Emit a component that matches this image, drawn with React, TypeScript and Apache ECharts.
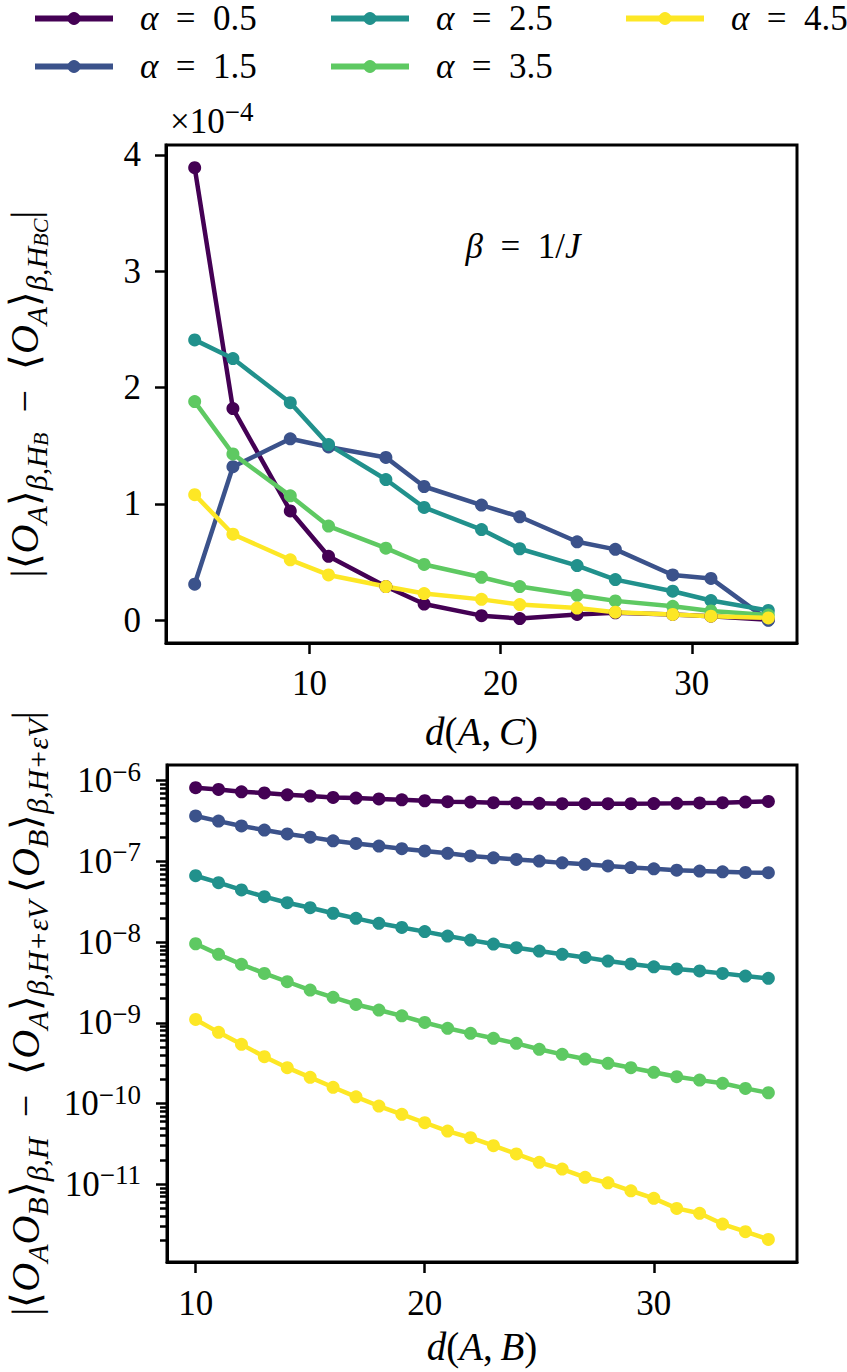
import React, { useEffect, useRef } from 'react';
import * as echarts from 'echarts';

const FONT = 'Liberation Serif';
const COLORS = ['#440154', '#3b528b', '#21918c', '#5ec962', '#fde725'];
const SERIES_NAMES = ['α = 0.5', 'α = 1.5', 'α = 2.5', 'α = 3.5', 'α = 4.5'];

// Top panel: x = d(A,C), y in units of 1e-4
const distAC = [4, 6, 9, 11, 14, 16, 19, 21, 24, 26, 29, 31, 34];
const topAlpha05 = [3.89, 1.82, 0.94, 0.55, 0.29, 0.14, 0.04, 0.015, 0.05, 0.065, 0.05, 0.035, 0.005];
const topAlpha15 = [0.31, 1.32, 1.56, 1.49, 1.4, 1.15, 0.99, 0.89, 0.675, 0.61, 0.39, 0.36, 0.0];
const topAlpha25 = [2.41, 2.25, 1.87, 1.51, 1.21, 0.97, 0.78, 0.615, 0.47, 0.35, 0.25, 0.17, 0.085];
const topAlpha35 = [1.88, 1.43, 1.07, 0.81, 0.62, 0.48, 0.37, 0.29, 0.215, 0.167, 0.12, 0.08, 0.045];
const topAlpha45 = [1.08, 0.74, 0.52, 0.39, 0.29, 0.23, 0.18, 0.135, 0.105, 0.07, 0.05, 0.035, 0.02];

// Bottom panel: x = d(A,B)
const distAB = [10, 11, 12, 13, 14, 15, 16, 17, 18, 19, 20, 21, 22, 23, 24, 25, 26, 27, 28, 29, 30, 31, 32, 33, 34, 35];
const botAlpha05 = [8.2e-7, 7.8e-7, 7.3e-7, 7.05e-7, 6.7e-7, 6.45e-7, 6.2e-7, 6.1e-7, 5.95e-7, 5.8e-7, 5.65e-7, 5.5e-7, 5.45e-7, 5.35e-7, 5.3e-7, 5.25e-7, 5.2e-7, 5.2e-7, 5.2e-7, 5.2e-7, 5.22e-7, 5.25e-7, 5.3e-7, 5.35e-7, 5.45e-7, 5.55e-7];
const botAlpha15 = [3.66e-7, 3.16e-7, 2.75e-7, 2.45e-7, 2.19e-7, 2.0e-7, 1.8e-7, 1.67e-7, 1.55e-7, 1.44e-7, 1.35e-7, 1.26e-7, 1.17e-7, 1.11e-7, 1.06e-7, 1.01e-7, 9.6e-8, 9.2e-8, 8.8e-8, 8.4e-8, 8.1e-8, 7.8e-8, 7.6e-8, 7.45e-8, 7.3e-8, 7.25e-8];
const botAlpha25 = [6.65e-8, 5.45e-8, 4.43e-8, 3.66e-8, 3.08e-8, 2.67e-8, 2.28e-8, 1.97e-8, 1.71e-8, 1.52e-8, 1.35e-8, 1.19e-8, 1.06e-8, 9.46e-9, 8.53e-9, 7.76e-9, 7.06e-9, 6.47e-9, 5.83e-9, 5.36e-9, 4.95e-9, 4.65e-9, 4.39e-9, 4.1e-9, 3.8e-9, 3.56e-9];
const botAlpha35 = [9.55e-9, 7.06e-9, 5.31e-9, 4.1e-9, 3.23e-9, 2.55e-9, 2.07e-9, 1.69e-9, 1.44e-9, 1.22e-9, 1.01e-9, 8.55e-10, 7.41e-10, 6.43e-10, 5.57e-10, 4.7e-10, 4.07e-10, 3.56e-10, 3.15e-10, 2.78e-10, 2.44e-10, 2.15e-10, 1.95e-10, 1.78e-10, 1.54e-10, 1.36e-10];
const botAlpha45 = [1.1e-9, 7.62e-10, 5.41e-10, 3.8e-10, 2.78e-10, 2.11e-10, 1.59e-10, 1.21e-10, 9.31e-11, 7.34e-11, 5.78e-11, 4.56e-11, 3.77e-11, 3.0e-11, 2.37e-11, 1.87e-11, 1.54e-11, 1.22e-11, 1.04e-11, 8.3e-12, 6.68e-12, 5.02e-12, 4.36e-12, 3.21e-12, 2.58e-12, 2.07e-12];

// Tick values
const topXTicks = [10, 20, 30];
const topYTicks = [0, 1, 2, 3, 4];
const botXTicks = [10, 20, 30];
const botYTicks = [1e-11, 1e-10, 1e-9, 1e-8, 1e-7, 1e-6];
const minorMultipliers = [2, 3, 4, 5, 6, 7, 8, 9];
const minorDecades = [1e-12, 1e-11, 1e-10, 1e-9, 1e-8, 1e-7];

const topValues = [topAlpha05, topAlpha15, topAlpha25, topAlpha35, topAlpha45];
const botValues = [botAlpha05, botAlpha15, botAlpha25, botAlpha35, botAlpha45];

// rich style definitions; each text gets a fresh dictionary holding only the keys it uses
const RICH_DEFS: any = {
  t: { fontFamily: FONT, fontSize: 35, height: 40 },
  s: { fontFamily: FONT, fontSize: 27, height: 22, verticalAlign: 'top' },
  n: { fontFamily: FONT, fontSize: 40, height: 48 },
  i: { fontFamily: FONT, fontSize: 40, height: 48, fontStyle: 'italic' },
  si: { fontFamily: FONT, fontSize: 30, height: 24, fontStyle: 'italic', verticalAlign: 'bottom' },
  ssi: { fontFamily: FONT, fontSize: 22, height: 16, fontStyle: 'italic', verticalAlign: 'bottom' },
  ln: { fontFamily: FONT, fontSize: 35, height: 28 },
  li: { fontFamily: FONT, fontSize: 35, height: 28, fontStyle: 'italic' },
  xn: { fontFamily: FONT, fontSize: 39, height: 40 },
  xi: { fontFamily: FONT, fontSize: 39, height: 40, fontStyle: 'italic' },
};
const pick = (keys: string[]): any => {
  const r: any = {};
  keys.forEach((k) => { r[k] = { ...RICH_DEFS[k] }; });
  return r;
};

const topYLabel = '{n||⟨}{i|O}{si|A}{n|⟩}{si|β,H}{ssi|B}{n|\u2002−\u2002⟨}{i|O}{si|A}{n|⟩}{si|β,H}{ssi|BC}{n||}';
const botYLabel = '{n||⟨}{i|O}{si|A}{i|O}{si|B}{n|⟩}{si|β,H}{n|\u2002−\u2002⟨}{i|O}{si|A}{n|⟩}{si|β,H+εV}{n|\u2009⟨}{i|O}{si|B}{n|⟩}{si|β,H+εV}{n||}';

const minorTicks: number[] = [];
minorDecades.forEach((d) => minorMultipliers.forEach((m) => minorTicks.push(m * d)));

const axisLineStyle = () => ({ show: true, onZero: false, lineStyle: { color: '#000', width: 3 } });
const tickStyle = (vals: number[], len = 11) => ({ show: true, length: len, customValues: vals, lineStyle: { color: '#000', width: 2.5 } });
const labelBase = (keys: string[]) => ({ color: '#000', fontFamily: FONT, fontSize: 35, rich: pick(keys) });

function buildOption() {
  const series: any[] = [];
  topValues.forEach((vals, k) => {
    series.push({
      type: 'line', name: SERIES_NAMES[k], xAxisIndex: 0, yAxisIndex: 0,
      data: distAC.map((d, i) => [d, vals[i]]),
      symbol: 'circle', symbolSize: 13, showSymbol: true, color: COLORS[k],
      lineStyle: { width: 4.5, color: COLORS[k] }, itemStyle: { color: COLORS[k] },
    });
  });
  botValues.forEach((vals, k) => {
    series.push({
      type: 'line', name: SERIES_NAMES[k], xAxisIndex: 1, yAxisIndex: 1,
      data: distAB.map((d, i) => [d, vals[i]]),
      symbol: 'circle', symbolSize: 13, showSymbol: true, color: COLORS[k],
      lineStyle: { width: 4.5, color: COLORS[k] }, itemStyle: { color: COLORS[k] },
    });
  });

  const legendCommon = () => ({
    orient: 'vertical', itemWidth: 78, itemHeight: 16, itemGap: 13, padding: 0, selectedMode: false,
    lineStyle: { width: 6 },
    formatter: (n: string) => '{li|α}{ln|\u2002=\u2002' + n.split('= ')[1] + '}',
    textStyle: { color: '#000', fontFamily: FONT, fontSize: 35, padding: [0, 0, 0, 22], rich: pick(['li', 'ln']) },
  });

  return {
    animation: false,
    backgroundColor: '#fff',
    legend: [
      { ...legendCommon(), left: 32, top: 1, data: [SERIES_NAMES[0], SERIES_NAMES[1]] },
      { ...legendCommon(), left: 328, top: 1, data: [SERIES_NAMES[2], SERIES_NAMES[3]] },
      { ...legendCommon(), left: 623, top: 1, data: [SERIES_NAMES[4]] },
    ],
    grid: [
      { left: 166, top: 145, width: 631, height: 498, show: true, borderColor: '#000', borderWidth: 3, backgroundColor: 'transparent', containLabel: false, outerBoundsMode: 'none' },
      { left: 167, top: 765, width: 630, height: 497, show: true, borderColor: '#000', borderWidth: 3, backgroundColor: 'transparent', containLabel: false, outerBoundsMode: 'none' },
    ],
    xAxis: [
      {
        type: 'value', gridIndex: 0, min: 2.5, max: 35.5,
        axisLine: axisLineStyle(), axisTick: tickStyle(topXTicks), splitLine: { show: false },
        axisLabel: { ...labelBase(['t']), margin: 20, customValues: topXTicks, formatter: (v: number) => '{t|' + v + '}' },
        name: '{xi|d}{xn|(}{xi|A}{xn|,\u2009}{xi|C}{xn|)}', nameLocation: 'middle', nameGap: 68,
        nameTextStyle: labelBase(['xi', 'xn']),
      },
      {
        type: 'value', gridIndex: 1, min: 8.75, max: 36.25,
        axisLine: axisLineStyle(), axisTick: tickStyle(botXTicks), splitLine: { show: false },
        axisLabel: { ...labelBase(['t']), margin: 21, customValues: botXTicks, formatter: (v: number) => '{t|' + v + '}' },
        name: '{xi|d}{xn|(}{xi|A}{xn|,\u2009}{xi|B}{xn|)}', nameLocation: 'middle', nameGap: 64,
        nameTextStyle: labelBase(['xi', 'xn']),
      },
    ],
    yAxis: [
      {
        type: 'value', gridIndex: 0, min: -0.195, max: 4.085,
        axisLine: axisLineStyle(), axisTick: tickStyle(topYTicks), splitLine: { show: false },
        axisLabel: { ...labelBase(['t']), margin: 25, customValues: topYTicks, formatter: (v: number) => '{t|' + Math.round(v) + '}' },
        name: topYLabel, nameLocation: 'middle', nameGap: 118, nameRotate: 90,
        nameTextStyle: labelBase(['n', 'i', 'si', 'ssi']),
      },
      {
        type: 'log', gridIndex: 1, min: 1.087e-12, max: 1.567e-6,
        axisLine: axisLineStyle(), axisTick: tickStyle(botYTicks), splitLine: { show: false }, minorTick: { show: false },
        axisLabel: {
          ...labelBase(['t', 's']), margin: 26, customValues: botYTicks,
          formatter: (v: number) => '{t|10}{s|−' + Math.abs(Math.round(Math.log10(v))) + '}',
        },
        name: botYLabel, nameLocation: 'middle', nameGap: 118, nameRotate: 90,
        nameTextStyle: labelBase(['n', 'i', 'si', 'ssi']),
      },
      {
        type: 'log', gridIndex: 1, min: 1.087e-12, max: 1.567e-6, position: 'left',
        axisLine: { show: false }, axisTick: tickStyle(minorTicks, 7), splitLine: { show: false },
        axisLabel: { show: false, customValues: [] },
      },
    ],
    graphic: [
      {
        type: 'text', x: 523, y: 246,
        style: { text: '{li|β}{ln|\u2002=\u20021/}{li|J}', align: 'center', verticalAlign: 'middle', fontSize: 35, fill: '#000', rich: pick(['li', 'ln']) },
      },
      {
        type: 'text', x: 170, y: 121,
        style: { text: '{t|×10}{s|−4}', align: 'left', verticalAlign: 'middle', fontSize: 35, fill: '#000', rich: pick(['t', 's']) },
      },
    ],
    series,
  };
}

export default function App() {
  const ref = useRef<HTMLDivElement>(null);
  useEffect(() => {
    const chart = echarts.init(ref.current!, null, { renderer: 'svg' });
    chart.setOption(buildOption() as any);
    return () => chart.dispose();
  }, []);
  return (
    <div
      ref={ref}
      style={{ position: 'absolute', left: 0, top: 0, width: 847, height: 1372, background: '#fff' }}
    />
  );
}
